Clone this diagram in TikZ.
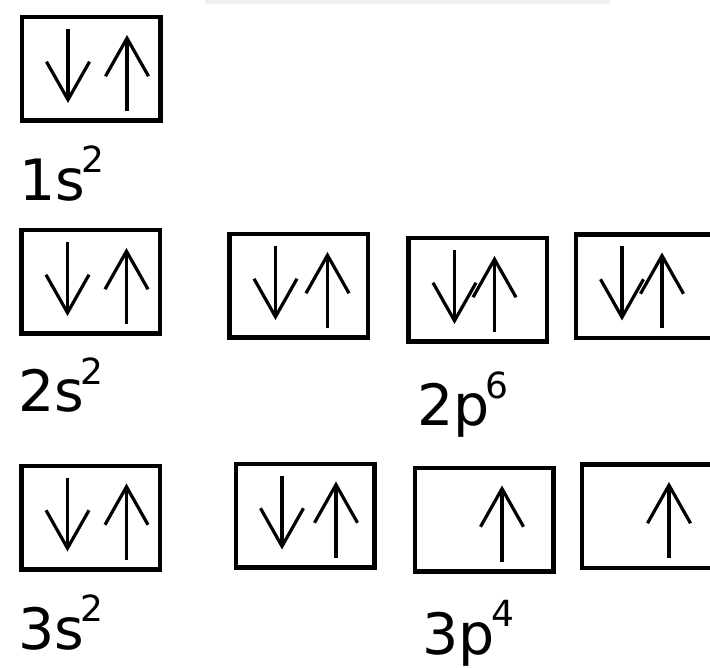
\documentclass[tikz,border=0pt]{standalone}
\usepackage{fontspec}
\setmainfont{DejaVu Sans}
\usepackage{tikz}
\usetikzlibrary{positioning,arrows.meta}
\newcommand{\cfg}[2]{#1\kern-4pt\raisebox{28pt}{\fontsize{36}{36}\selectfont #2}}
\newcommand{\dnspin}[2]{\draw[spin] ([xshift=#2pt,yshift=40pt]#1.center) -- ([xshift=#2pt,yshift=-34pt]#1.center);}
\newcommand{\upspin}[2]{\draw[spin] ([xshift=#2pt,yshift=-42pt]#1.center) -- ([xshift=#2pt,yshift=34pt]#1.center);}
\tikzset{
  orb/.style  ={draw=black, line width=4.5pt, minimum width=138.5pt, minimum height=103.5pt,
                inner sep=0pt, fill=white},
  spin/.style ={line width=3.2pt, -{Straight Barb[length=38pt,width=43pt]}},
  lbl/.style  ={anchor=base west, inner sep=0pt, font=\fontsize{57}{57}\selectfont},
}
\begin{document}
\begin{tikzpicture}[x=1pt,y=-1pt]
  \useasboundingbox (0,0) rectangle (710,668);
  \clip (0,0) rectangle (710,668);
  \fill[black!6] (205,0) rectangle (610,4);

  % 1s
  \node[orb] (s1) at (91,69) {};
  \dnspin{s1}{-23} \upspin{s1}{36}
  \node[lbl] (l1s) at (19,201) {\cfg{1s}{2}};

  % 2s / 2p
  \node[orb] (s2)  at (90.5,282) {};
  \node[orb] (p2a) at (298.5,286) {};
  \node[orb] (p2b) at (477.5,290) {};
  \node[orb] (p2c) at (645,286.5) {};
  \dnspin{s2}{-23}  \upspin{s2}{36}
  \dnspin{p2a}{-23} \upspin{p2a}{29}
  \dnspin{p2b}{-23} \upspin{p2b}{17}
  \dnspin{p2c}{-23} \upspin{p2c}{17}
  \node[lbl] (l2s) at (18.5,412) {\cfg{2s}{2}};
  \node[lbl] (l2p) at (417,426) {\cfg{2p}{6}};

  % 3s / 3p
  \node[orb] (s3)  at (90.5,517.5) {};
  \node[orb] (p3a) at (305,515.5) {};
  \node[orb] (p3b) at (484,519.5) {};
  \node[orb] (p3c) at (651,516) {};
  \dnspin{s3}{-23}  \upspin{s3}{36}
  \dnspin{p3a}{-23} \upspin{p3a}{31}
  \upspin{p3b}{18}
  \upspin{p3c}{18}
  \node[lbl] (l3s) at (18.5,649) {\cfg{3s}{2}};
  \node[lbl] (l3p) at (422.5,654) {\cfg{3p}{4}};
\end{tikzpicture}
\end{document}
